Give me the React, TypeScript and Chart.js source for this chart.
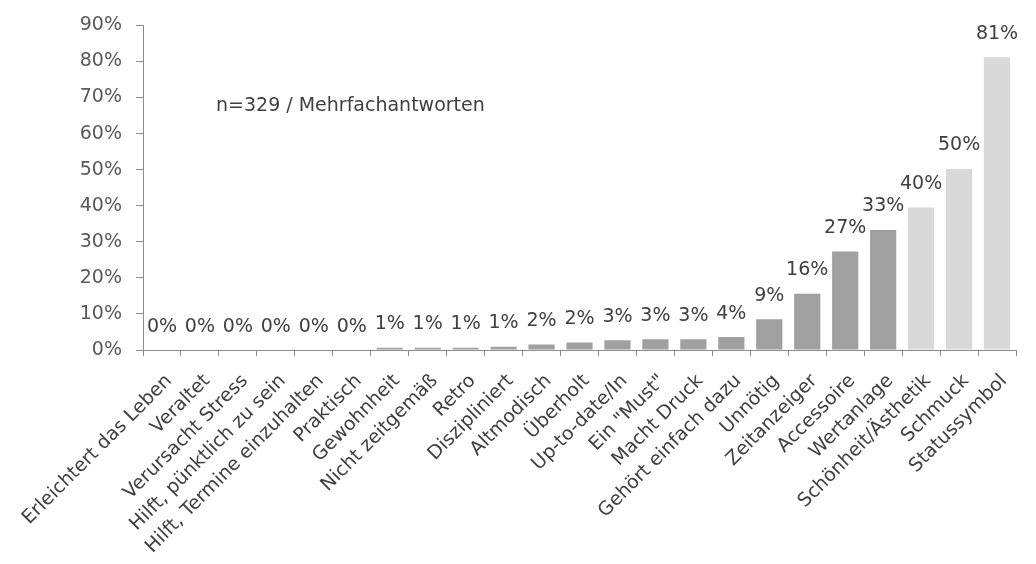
import { useEffect, useRef } from "react";
import { Chart, registerables } from "chart.js";

Chart.register(...registerables);

const categories = [
  "Erleichtert das Leben",
  "Veraltet",
  "Verursacht Stress",
  "Hilft, pünktlich zu sein",
  "Hilft, Termine einzuhalten",
  "Praktisch",
  "Gewohnheit",
  "Nicht zeitgemäß",
  "Retro",
  "Diszipliniert",
  "Altmodisch",
  "Überholt",
  "Up-to-date/In",
  'Ein "Must"',
  "Macht Druck",
  "Gehört einfach dazu",
  "Unnötig",
  "Zeitanzeiger",
  "Accessoire",
  "Wertanlage",
  "Schönheit/Ästhetik",
  "Schmuck",
  "Statussymbol",
];

const values = [0, 0, 0, 0, 0, 0, 0.6, 0.6, 0.6, 0.9, 1.5, 2.1, 2.7, 3.0, 3.0, 3.6, 8.5, 15.6, 27.3, 33.3, 39.5, 50.2, 81.2];

const valueLabels = ["0%", "0%", "0%", "0%", "0%", "0%", "1%", "1%", "1%", "1%", "2%", "2%", "3%", "3%", "3%", "4%", "9%", "16%", "27%", "33%", "40%", "50%", "81%"];

const highlighted = ["Schönheit/Ästhetik", "Schmuck", "Statussymbol"];

const yMin = 0;
const yMax = 90;
const yStep = 10;

const note = "n=329 / Mehrfachantworten";

const FONT = "'DejaVu Sans', sans-serif";

export default function App() {
  const canvasRef = useRef<HTMLCanvasElement | null>(null);

  useEffect(() => {
    const canvas = canvasRef.current;
    if (!canvas) return;

    const labelPlugin = {
      id: "valueLabels",
      afterDatasetsDraw(chart: any) {
        const ctx = chart.ctx;
        const meta = chart.getDatasetMeta(0);
        ctx.save();
        ctx.font = `19px ${FONT}`;
        ctx.fillStyle = "#404040";
        ctx.textAlign = "center";
        ctx.textBaseline = "alphabetic";
        meta.data.forEach((bar: any, i: number) => {
          ctx.fillText(valueLabels[i], bar.x, bar.y - 18.5);
        });
        ctx.textAlign = "left";
        ctx.fillText(note, 216, 111);
        ctx.restore();
      },
    };

    const chart = new Chart(canvas, {
      type: "bar",
      data: {
        labels: categories,
        datasets: [
          {
            data: values,
            backgroundColor: categories.map((c) => (highlighted.includes(c) ? "#d9d9d9" : "#a0a0a0")),
            borderWidth: 0,
            barPercentage: 0.69,
            categoryPercentage: 1,
          },
        ],
      },
      options: {
        animation: false,
        responsive: true,
        maintainAspectRatio: false,
        layout: { padding: { top: 22, right: 20, left: 0, bottom: 0 } },
        plugins: {
          legend: { display: false },
          tooltip: { enabled: false },
        },
        scales: {
          x: {
            grid: {
              display: true,
              drawOnChartArea: false,
              drawTicks: true,
              tickLength: 6,
              color: "#8c8c8c",
              offset: true,
            },
            border: { display: true, color: "#8c8c8c", width: 1 },
            ticks: {
              autoSkip: false,
              maxRotation: 45,
              minRotation: 45,
              color: "#404040",
              font: { family: FONT, size: 19 },
              padding: 14,
              labelOffset: 7,
            },
            afterFit(scale: any) {
              scale.height = 214;
            },
          },
          y: {
            min: yMin,
            max: yMax,
            grid: {
              display: true,
              drawOnChartArea: false,
              drawTicks: true,
              tickLength: 7,
              color: "#8c8c8c",
            },
            border: { display: true, color: "#8c8c8c", width: 1 },
            ticks: {
              stepSize: yStep,
              color: "#595959",
              font: { family: FONT, size: 19 },
              padding: 14,
              callback: (v: any) => `${v}%`,
            },
            afterFit(scale: any) {
              scale.width = 143;
            },
          },
        },
      },
      plugins: [labelPlugin],
    });

    return () => chart.destroy();
  }, []);

  return (
    <div style={{ position: "fixed", left: 0, top: 0, width: 1036, height: 564, background: "#fff" }}>
      <canvas ref={canvasRef} />
    </div>
  );
}
